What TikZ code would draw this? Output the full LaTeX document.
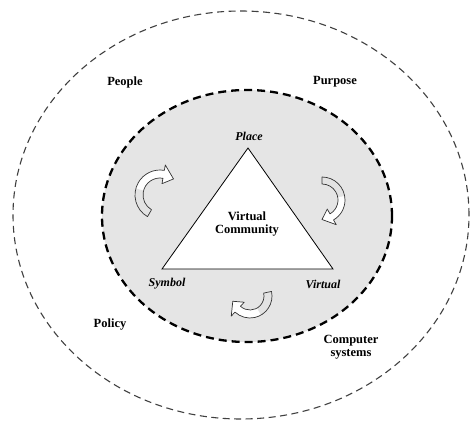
\documentclass[tikz,border=0pt]{standalone}
\usepackage{fontspec}
\setmainfont{Liberation Serif}
\newcommand\curvedarrow[7]{% cx cy r1 r2 start end mid
\begin{scope}[shift={(#1,#2)}]
\fill[white] (#5:#4) arc[start angle=#5,end angle=#6,radius=#4] -- ({#6}:{#4+5.5}) -- ({#6-30}:{(#3+#4)/2}) -- ({#6}:{#3-5.5}) -- (#6:#3) arc[start angle=#6,end angle=#5,radius=#3] -- cycle;
\fill[arrowgrey] (#5:#4) arc[start angle=#5,end angle=#7,radius=#4] -- (#7:#3) arc[start angle=#7,end angle=#5,radius=#3] -- cycle;
\draw[arrowline] (#5:#4) arc[start angle=#5,end angle=#6,radius=#4] -- ({#6}:{#4+5.5}) -- ({#6-30}:{(#3+#4)/2}) -- ({#6}:{#3-5.5}) -- (#6:#3) arc[start angle=#6,end angle=#5,radius=#3] -- cycle;
\end{scope}}
\colorlet{arrowgrey}{gray!22}
\begin{document}
\begin{tikzpicture}[x=1pt,y=1pt,
  outerring/.style={draw=black!75, line width=1.1pt, dash pattern=on 7pt off 4.5pt},
  innerring/.style={draw=black, fill=black!10, line width=2.3pt, dash pattern=on 8pt off 5pt},
  arrowline/.style={draw=black!80, line width=0.7pt, line join=round},
  lab/.style={font=\fontsize{12.5}{13.5}\selectfont\bfseries, text=black, align=center, inner sep=0pt},
  ilab/.style={font=\fontsize{12}{13}\selectfont\bfseries\itshape, text=black, inner sep=0pt}]
\useasboundingbox (0,0) rectangle (471,424);
\draw[outerring] (241,209) ellipse [x radius=228, y radius=204];
\draw[innerring] (247,208) ellipse [x radius=145, y radius=126];
\coordinate (apex) at (248,276);
\coordinate (bl) at (162,155);
\coordinate (br) at (333,155);
\draw[fill=white, line width=0.8pt] (apex) -- (bl) -- (br) -- cycle;
\node[lab] (vc) at (247,200) {Virtual\\Community};
\node[ilab] (place) at (249,288) {Place};
\node[ilab] (symbol) at (167,140) {Symbol};
\node[ilab] (virtual) at (323,140) {Virtual};
\node[lab] (people) at (125,342) {People};
\node[lab] (purpose) at (335,342) {Purpose};
\node[lab] (policy) at (110,99) {Policy};
\node[lab] (computer) at (351,77) {Computer\\systems};
\curvedarrow{160}{229}{17}{25}{240}{80}{165}
\curvedarrow{322}{224}{16}{23}{90}{-60}{10}
\curvedarrow{250}{128}{14}{22}{12}{-133}{-60}
\end{tikzpicture}
\end{document}
